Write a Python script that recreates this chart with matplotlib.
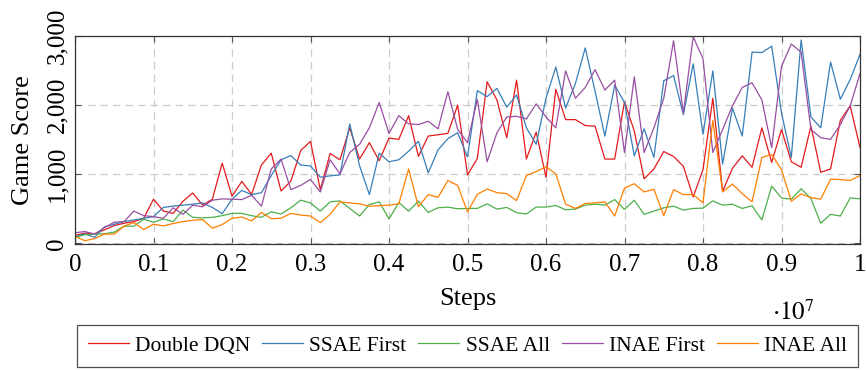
import numpy as np
import matplotlib
matplotlib.use("Agg")
import matplotlib.pyplot as plt
from matplotlib.ticker import FuncFormatter, FixedLocator

plt.rcParams['font.family'] = ['Liberation Serif', 'DejaVu Serif']
plt.rcParams['mathtext.fontset'] = 'stix'

# evaluation steps (every 125k steps, 0 .. 1e7)
steps = np.arange(81) * 125000

double_dqn = [114, 148, 138, 195, 257, 290, 314, 362, 638, 467, 433, 609, 728, 552, 638, 1161,
              681, 895, 709, 1133, 1304, 757, 900, 1342, 1476, 776, 1300, 1209, 1671, 1219, 1457,
              1195, 1523, 1504, 1847, 1257, 1552, 1571, 1590, 2000, 990, 1228, 2337, 2075, 1528,
              2361, 1219, 1609, 957, 2228, 1790, 1790, 1704, 1695, 1219, 1219, 2052, 1623, 933,
              1076, 1328, 1257, 1114, 671, 1066, 2099, 752, 1085, 1266, 1100, 1671, 1171, 1647,
              1180, 1100, 1695, 1028, 1076, 1780, 1990, 1385]

ssae_first = [95, 138, 86, 238, 276, 314, 338, 362, 386, 519, 538, 552, 566, 585, 519, 428,
              638, 766, 704, 733, 980, 1209, 1271, 1133, 1119, 957, 976, 990, 1728, 1123, 705,
              1304, 1180, 1209, 1333, 1476, 1019, 1352, 1514, 1600, 1250, 2209, 2123, 2242, 1971,
              2147, 1671, 1433, 2099, 2552, 1957, 2314, 2828, 2200, 1552, 2290, 2037, 1266, 1657,
              1242, 2352, 2428, 1861, 2599, 1576, 2495, 1147, 1957, 1552, 2766, 2761, 2852, 1885,
              1242, 2942, 1828, 1671, 2623, 2085, 2371, 2733]

ssae_all = [86, 124, 133, 138, 162, 248, 248, 347, 305, 352, 314, 481, 376, 367, 376, 400,
            433, 433, 400, 376, 457, 424, 514, 624, 585, 466, 600, 614, 505, 395, 562,
            600, 352, 590, 466, 609, 447, 514, 524, 500, 505, 505, 571, 495, 519,
            443, 424, 524, 524, 547, 486, 495, 552, 566, 552, 633, 490, 624, 419,
            466, 514, 538, 481, 505, 509, 614, 552, 566, 505, 543, 338, 828, 657,
            638, 790, 647, 290, 419, 395, 657, 643]

inae_first = [152, 171, 133, 228, 305, 314, 466, 400, 386, 362, 514, 419, 552, 528, 624, 643,
              638, 633, 695, 538, 1076, 1219, 776, 838, 923, 743, 1209, 1004, 1314, 1433, 1671,
              2037, 1590, 1847, 1728, 1719, 1766, 1657, 2194, 1647, 1457, 2085, 1180, 1600, 1828,
              1838, 1800, 2018, 1828, 1671, 2494, 2099, 2256, 2513, 2218, 2361, 1314, 2409, 1314,
              1671, 2099, 2932, 1885, 2990, 2671, 1314, 1647, 1990, 2256, 2323, 2075, 1385, 2561,
              2885, 2766, 1647, 1528, 1504, 1719, 1990, 2456]

inae_all = [100, 38, 67, 133, 133, 248, 300, 200, 276, 252, 286, 314, 333, 343, 219, 271,
            362, 381, 324, 447, 357, 362, 433, 409, 395, 300, 419, 600, 585, 571, 538,
            543, 552, 571, 1076, 528, 705, 666, 909, 838, 452, 709, 785, 733, 719,
            619, 981, 1038, 1109, 1004, 566, 505, 576, 585, 600, 395, 800, 862, 743,
            781, 400, 776, 705, 705, 585, 1780, 743, 857, 719, 600, 1242, 1285, 1066,
            609, 714, 662, 638, 928, 923, 909, 981]

labels = ["Double DQN", "SSAE First", "SSAE All", "INAE First", "INAE All"]
colors = ["#e41a1c", "#377eb8", "#4daf4a", "#984ea3", "#ff7f00"]
series = [double_dqn, ssae_first, ssae_all, inae_first, inae_all]

x_ticks = [0, 0.1, 0.2, 0.3, 0.4, 0.5, 0.6, 0.7, 0.8, 0.9, 1]
y_ticks = [0, 1000, 2000, 3000]

fig = plt.figure(figsize=(8.66, 3.70), dpi=100)
ax = fig.add_axes([75/866, 1-244/370, 785/866, 208/370])

x = steps / 1e7
for vals, lab, col in zip(series, labels, colors):
    ax.plot(x, vals, color=col, lw=0.9, label=lab)

ax.set_xlim(0, 1)
ax.set_ylim(-10, 3000)
ax.xaxis.set_major_locator(FixedLocator(x_ticks))
ax.yaxis.set_major_locator(FixedLocator(y_ticks))
ax.xaxis.set_major_formatter(FuncFormatter(lambda v, p: "0" if v == 0 else ("1" if v == 1 else f"{v:.1f}")))
ax.yaxis.set_major_formatter(FuncFormatter(lambda v, p: f"{int(v):,}"))
for lbl in ax.get_yticklabels():
    lbl.set_rotation(90)
    lbl.set_va('center')

ax.tick_params(direction='in', length=4, width=0.8, color='#555555', labelsize=18,
               top=True, right=True)
ax.tick_params(axis='x', pad=7)
ax.tick_params(axis='y', pad=5)
ax.grid(True, color='#cccccc', linestyle=(0, (6, 4)), linewidth=0.9)
for s in ax.spines.values():
    s.set_color('#333333')
    s.set_linewidth(0.9)

ax.set_xlabel("Steps", fontsize=19, labelpad=9)
ax.set_ylabel("Game Score", fontsize=19, labelpad=9)
ax.text(0.888, -0.33, r"$\cdot 10^{7}$", transform=ax.transAxes, fontsize=18, ha='left', va='center')

leg = fig.legend(loc='lower center', bbox_to_anchor=(467.5/866, 0.003), ncol=5,
                 fontsize=15.5, frameon=True, fancybox=False, edgecolor='#222222',
                 handlelength=1.9, handletextpad=0.3, columnspacing=0.55, borderpad=0.5,
                 borderaxespad=0.1)
leg.get_frame().set_linewidth(0.9)

fig.savefig("out.png", dpi=100)
